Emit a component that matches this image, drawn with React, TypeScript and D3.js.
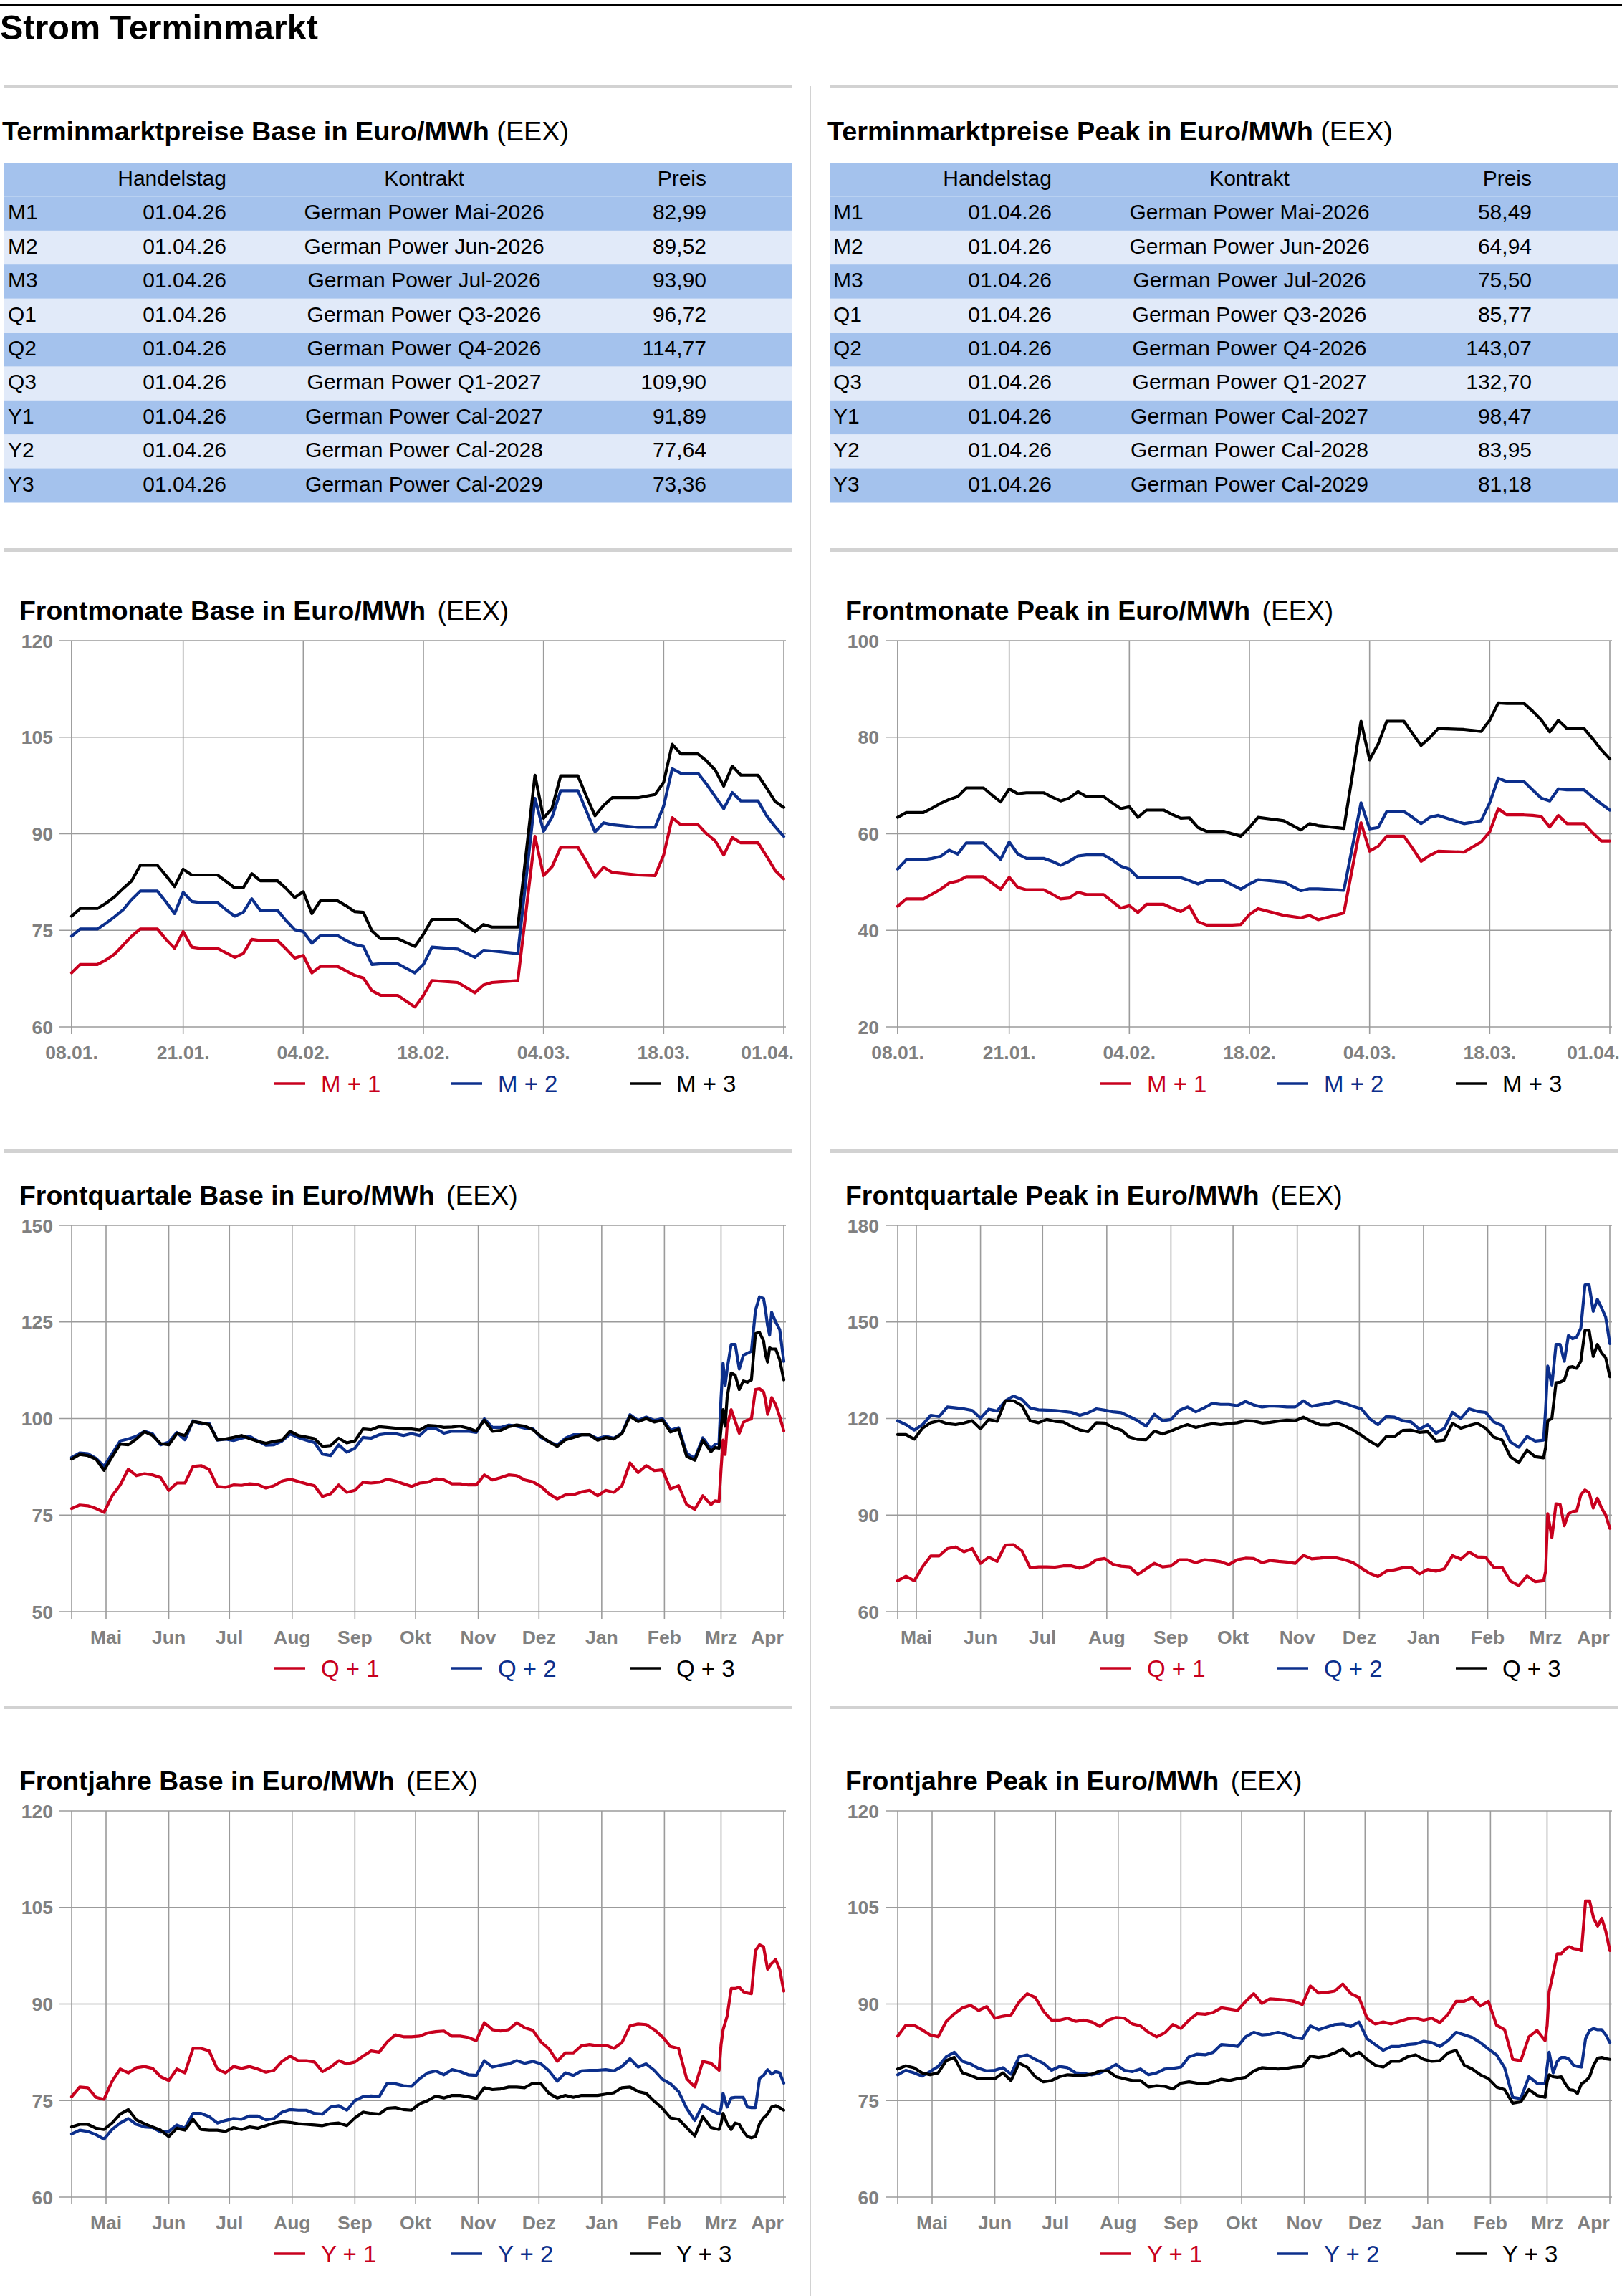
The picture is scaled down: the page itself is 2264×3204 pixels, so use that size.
import React from "react";
import * as d3 from "d3";

// ---------------- constants / styles ----------------
const FONT = "'Liberation Sans', Arial, Helvetica, sans-serif";
const RED = "#c8001e";
const BLUE = "#0c2f8c";
const BLACK = "#000000";
const GRID = "#9b9b9b";
const TICK = "#808080";
const SEP = "#d2d2d2";
const ROW_DARK = "#a4c2ed";
const ROW_LIGHT = "#e1eaf9";

// ---------------- table data ----------------
const ROW_KEYS = ["M1", "M2", "M3", "Q1", "Q2", "Q3", "Y1", "Y2", "Y3"];
const TRADE_DAY = "01.04.26";
const CONTRACTS = [
  "German Power Mai-2026",
  "German Power Jun-2026",
  "German Power Jul-2026",
  "German Power Q3-2026",
  "German Power Q4-2026",
  "German Power Q1-2027",
  "German Power Cal-2027",
  "German Power Cal-2028",
  "German Power Cal-2029",
];
const BASE_PRICES = [82.99, 89.52, 93.9, 96.72, 114.77, 109.9, 91.89, 77.64, 73.36];
const PEAK_PRICES = [58.49, 64.94, 75.5, 85.77, 143.07, 132.7, 98.47, 83.95, 81.18];
const TABLE_HEADERS = ["Handelstag", "Kontrakt", "Preis"];

// ---------------- axis ticks ----------------
const FM_START = "2026-01-08";
const END_DATE = "2026-04-01";
const FM_TICK_DATES = ["2026-01-08", "2026-01-21", "2026-02-04", "2026-02-18", "2026-03-04", "2026-03-18", "2026-04-01"];
const FM_TICK_LABELS = ["08.01.", "21.01.", "04.02.", "18.02.", "04.03.", "18.03.", "01.04."];
const LONG_START = "2025-04-14";
const QP_START = "2025-04-22";
const MONTH_TICK_DATES = ["2025-05-01", "2025-06-01", "2025-07-01", "2025-08-01", "2025-09-01", "2025-10-01", "2025-11-01", "2025-12-01", "2026-01-01", "2026-02-01", "2026-03-01", "2026-04-01"];
const MONTH_TICK_LABELS = ["Mai", "Jun", "Jul", "Aug", "Sep", "Okt", "Nov", "Dez", "Jan", "Feb", "Mrz", "Apr"];

// ---------------- Frontmonate (days since 08.01.2026) ----------------
const FM_DAYS = [0, 1, 3, 4, 5, 6, 7, 8, 10, 11, 12, 13, 14, 15, 17, 18, 19, 20, 21, 22, 24, 25, 26, 27, 28, 29, 31, 32, 33, 34, 35, 36, 38, 39, 40, 41, 42, 45, 47, 48, 49, 52, 54, 55, 56, 57, 59, 60, 61, 62, 63, 66, 68, 69, 70, 71, 73, 74, 75, 76, 77, 78, 80, 81, 82, 83];
const FMB_M1 = [68.4, 69.7, 69.7, 70.4, 71.3, 72.7, 74.1, 75.2, 75.2, 73.6, 72.2, 74.8, 72.4, 72.2, 72.2, 71.5, 70.8, 71.4, 73.6, 73.4, 73.4, 72.1, 70.7, 71.1, 68.4, 69.4, 69.4, 68.7, 68.0, 67.6, 65.6, 64.9, 64.9, 64.0, 63.1, 64.9, 67.2, 66.9, 65.3, 66.5, 66.9, 67.2, 89.6, 83.5, 84.9, 87.9, 87.9, 85.7, 83.3, 84.8, 84.0, 83.6, 83.5, 86.7, 92.5, 91.4, 91.4, 90.0, 88.9, 86.7, 89.4, 88.6, 88.6, 86.5, 84.3, 83.0];
const FMB_M2 = [74.1, 75.2, 75.2, 76.1, 77.1, 78.2, 79.8, 81.1, 81.1, 79.4, 77.6, 80.9, 79.5, 79.3, 79.3, 78.2, 77.2, 77.8, 79.9, 78.1, 78.1, 76.5, 75.1, 74.8, 73.0, 74.2, 74.2, 73.4, 72.8, 72.5, 69.7, 69.8, 69.8, 69.1, 68.4, 69.7, 72.4, 72.1, 70.8, 71.9, 71.8, 71.4, 95.5, 90.4, 92.6, 96.7, 96.7, 93.5, 90.3, 91.7, 91.4, 91.0, 91.0, 94.3, 100.1, 99.4, 99.4, 97.7, 95.8, 93.9, 96.4, 95.1, 95.1, 92.8, 91.1, 89.6];
const FMB_M3 = [77.2, 78.4, 78.4, 79.2, 80.2, 81.5, 82.7, 85.1, 85.1, 83.5, 81.8, 84.5, 83.6, 83.6, 83.6, 82.6, 81.6, 81.6, 83.8, 82.7, 82.7, 81.5, 80.1, 81.0, 77.6, 79.6, 79.6, 78.8, 77.9, 77.8, 74.9, 73.7, 73.7, 73.1, 72.5, 74.4, 76.7, 76.7, 74.8, 75.9, 75.5, 75.5, 99.1, 92.4, 94.0, 99.0, 99.0, 95.8, 92.8, 94.4, 95.6, 95.6, 96.1, 98.0, 103.9, 102.4, 102.4, 101.3, 99.9, 97.4, 100.5, 99.1, 99.1, 97.1, 95.0, 94.1];
const FMP_M1 = [45.0, 46.5, 46.5, 47.5, 48.5, 49.8, 50.2, 51.1, 51.1, 49.8, 48.5, 51.0, 48.9, 48.4, 48.4, 47.5, 46.5, 46.7, 47.9, 47.4, 47.4, 46.0, 44.6, 45.1, 43.7, 45.4, 45.4, 44.6, 43.9, 45.0, 41.8, 41.1, 41.1, 41.1, 41.2, 43.3, 44.5, 43.1, 42.6, 43.1, 42.2, 43.6, 62.3, 56.4, 57.4, 59.5, 59.5, 57.0, 54.3, 55.5, 56.4, 56.2, 58.3, 60.4, 65.2, 63.9, 63.9, 63.8, 63.6, 61.4, 63.8, 62.1, 62.1, 60.2, 58.5, 58.5];
const FMP_M2 = [52.7, 54.6, 54.6, 54.9, 55.3, 56.6, 55.8, 58.1, 58.1, 56.4, 54.7, 58.3, 55.8, 54.9, 54.9, 54.3, 53.5, 54.3, 55.4, 55.6, 55.6, 54.6, 53.3, 52.7, 50.9, 50.9, 50.9, 50.9, 50.9, 50.3, 49.6, 50.3, 50.3, 49.4, 48.5, 49.6, 50.5, 50.0, 48.2, 48.6, 48.6, 48.3, 66.4, 61.0, 61.3, 64.6, 64.6, 63.4, 62.1, 63.4, 63.8, 62.1, 62.7, 66.4, 71.5, 70.8, 70.8, 69.1, 67.4, 66.8, 69.3, 69.1, 69.1, 67.6, 66.2, 64.9];
const FMP_M3 = [63.4, 64.4, 64.4, 65.3, 66.3, 67.1, 67.7, 69.5, 69.5, 68.0, 66.6, 69.3, 68.3, 68.5, 68.5, 67.6, 66.8, 67.4, 68.7, 67.7, 67.7, 66.4, 65.2, 65.6, 63.4, 64.9, 64.9, 64.0, 63.2, 63.3, 61.3, 60.5, 60.5, 60.0, 59.5, 61.3, 63.4, 62.7, 60.8, 62.1, 61.7, 61.1, 83.3, 75.3, 78.6, 83.3, 83.3, 80.8, 78.3, 79.9, 81.8, 81.6, 81.2, 83.5, 87.1, 87.0, 87.0, 85.4, 83.6, 81.1, 83.5, 81.8, 81.8, 79.7, 77.4, 75.5];

// ---------------- Frontquartale Base (days since 14.04.2025) ----------------
const QB_DAYS = [0, 4, 8, 12, 16, 20, 24, 28, 32, 36, 40, 44, 48, 52, 56, 60, 64, 68, 72, 76, 80, 84, 88, 92, 96, 100, 104, 108, 112, 116, 120, 124, 128, 132, 136, 140, 144, 148, 152, 156, 160, 164, 168, 172, 176, 180, 184, 188, 192, 196, 200, 204, 208, 212, 216, 220, 224, 228, 232, 236, 240, 244, 248, 252, 256, 260, 264, 268, 272, 276, 280, 284, 288, 292, 296, 300, 304, 308, 312, 316, 318, 320, 321, 322, 323, 324, 326, 328, 330, 332, 334, 336, 338, 340, 342, 343, 344, 345, 346, 348, 350, 352];
const QB_Q1 = [76.7, 77.6, 77.4, 76.7, 75.7, 80.0, 82.8, 86.9, 85.2, 85.7, 85.4, 84.7, 81.4, 83.3, 83.3, 87.6, 87.8, 86.8, 82.4, 82.2, 82.8, 82.7, 83.1, 82.9, 82.0, 82.6, 83.8, 84.3, 83.7, 83.1, 82.6, 79.8, 80.5, 82.8, 80.9, 81.4, 83.5, 83.3, 83.5, 84.3, 83.8, 83.1, 82.4, 83.3, 83.5, 84.4, 84.1, 83.1, 83.1, 82.8, 82.8, 85.4, 84.1, 84.7, 85.4, 85.2, 84.1, 83.6, 82.4, 80.5, 79.2, 80.2, 80.3, 81.0, 81.4, 80.0, 81.4, 80.9, 82.6, 88.5, 86.0, 87.8, 86.5, 86.7, 81.8, 82.6, 77.7, 76.5, 80.0, 77.7, 78.7, 78.5, 87.0, 94.4, 90.7, 98.0, 102.3, 99.3, 96.2, 99.0, 99.6, 99.9, 107.5, 107.7, 106.9, 104.8, 101.1, 102.9, 105.4, 103.6, 100.5, 96.8];
const QB_Q2 = [89.9, 91.1, 90.9, 89.7, 87.6, 90.9, 94.2, 94.7, 95.4, 96.7, 96.0, 93.2, 93.9, 96.4, 94.5, 99.4, 98.6, 98.7, 94.4, 94.7, 94.3, 94.9, 95.4, 94.2, 93.1, 93.2, 94.2, 96.0, 95.1, 94.4, 93.8, 90.8, 90.4, 93.2, 91.3, 92.3, 95.1, 94.9, 95.8, 96.1, 96.1, 95.6, 96.1, 95.6, 97.5, 97.4, 96.2, 96.7, 96.7, 96.7, 96.4, 99.9, 97.7, 97.7, 98.3, 98.0, 97.5, 97.3, 95.1, 94.0, 93.1, 94.9, 95.8, 95.8, 95.8, 94.8, 95.4, 94.9, 96.2, 101.0, 99.5, 100.4, 99.5, 100.0, 97.0, 97.6, 91.0, 89.7, 95.0, 92.1, 93.3, 93.7, 105.4, 114.3, 108.5, 112.8, 119.2, 119.2, 112.8, 116.4, 116.9, 117.4, 128.0, 131.5, 131.1, 128.0, 124.0, 121.6, 127.5, 125.0, 123.0, 114.8];
const QB_Q3 = [89.5, 90.7, 90.4, 89.5, 86.6, 90.1, 93.4, 93.2, 94.7, 96.6, 95.6, 93.5, 93.2, 96.1, 95.6, 99.2, 98.9, 98.4, 94.5, 94.7, 95.1, 95.6, 94.8, 94.1, 93.6, 94.1, 94.4, 96.7, 95.6, 95.2, 94.8, 92.8, 93.0, 94.9, 93.7, 94.2, 97.3, 97.1, 97.9, 97.7, 97.5, 97.3, 97.3, 97.0, 98.2, 98.1, 97.7, 97.8, 98.0, 97.5, 96.7, 99.6, 96.7, 96.9, 97.9, 98.3, 98.0, 97.1, 95.4, 94.0, 92.8, 94.5, 95.1, 95.8, 95.8, 94.4, 95.1, 94.7, 96.1, 100.6, 99.2, 100.0, 99.1, 99.6, 96.5, 97.2, 90.2, 89.2, 94.4, 91.4, 92.5, 92.3, 97.4, 102.3, 98.0, 105.4, 111.8, 111.2, 107.5, 109.7, 109.4, 110.0, 122.0, 122.3, 120.1, 116.5, 114.6, 118.3, 118.0, 118.0, 115.2, 110.0];

// ---------------- Frontquartale Peak (days since 22.04.2025) ----------------
const QP_DAYS = [0, 4, 8, 12, 16, 20, 24, 28, 32, 36, 40, 44, 48, 52, 56, 60, 64, 68, 72, 76, 80, 84, 88, 92, 96, 100, 104, 108, 112, 116, 120, 124, 128, 132, 136, 140, 144, 148, 152, 156, 160, 164, 168, 172, 176, 180, 184, 188, 192, 196, 200, 204, 208, 212, 216, 220, 224, 228, 232, 236, 240, 244, 248, 252, 256, 260, 264, 268, 272, 276, 280, 284, 288, 292, 296, 300, 304, 308, 312, 313, 314, 316, 318, 320, 322, 324, 326, 328, 330, 332, 334, 336, 338, 340, 342, 344];
const QP_Q1 = [69.6, 71.0, 69.6, 73.9, 77.3, 77.3, 79.6, 80.1, 78.6, 79.6, 75.0, 76.9, 75.6, 80.7, 80.8, 78.9, 73.6, 73.9, 73.9, 73.8, 74.2, 74.2, 73.5, 74.3, 76.1, 76.5, 74.7, 74.1, 73.9, 71.6, 73.3, 75.0, 73.9, 74.2, 76.1, 76.1, 75.2, 76.1, 75.9, 75.5, 74.6, 76.1, 76.6, 76.5, 75.2, 75.9, 75.6, 75.4, 75.0, 77.5, 76.4, 76.6, 76.9, 76.7, 76.1, 75.2, 73.5, 71.9, 70.9, 72.6, 73.0, 73.6, 73.7, 71.7, 73.1, 72.6, 73.3, 77.4, 76.3, 78.5, 77.0, 76.9, 73.7, 73.7, 69.5, 68.1, 71.1, 69.3, 69.6, 72.6, 90.4, 83.0, 93.5, 93.3, 86.7, 90.4, 91.1, 91.3, 96.3, 97.8, 97.0, 92.2, 95.2, 92.2, 90.0, 85.9];
const QP_Q2 = [119.3, 118.1, 116.4, 118.1, 121.0, 120.6, 123.6, 123.3, 123.0, 122.5, 120.1, 122.9, 122.3, 125.5, 127.0, 125.9, 123.3, 122.7, 122.6, 122.5, 122.2, 121.9, 121.0, 121.8, 123.0, 122.6, 122.1, 121.8, 120.6, 119.3, 117.6, 121.3, 119.3, 119.7, 122.5, 123.6, 122.1, 123.3, 124.7, 124.4, 124.4, 124.0, 125.3, 124.2, 123.6, 123.9, 123.8, 123.6, 123.6, 125.5, 123.8, 124.3, 124.7, 125.4, 124.7, 123.8, 123.0, 119.9, 118.1, 120.6, 120.4, 119.3, 118.9, 116.7, 118.1, 115.4, 116.9, 121.9, 120.0, 123.0, 122.2, 121.9, 118.9, 117.8, 112.7, 111.1, 114.4, 113.0, 113.3, 123.0, 136.3, 130.4, 143.0, 143.0, 137.8, 145.8, 144.8, 145.3, 148.1, 161.5, 161.5, 153.3, 157.0, 154.4, 151.5, 143.3];
const QP_Q3 = [115.0, 115.0, 113.6, 117.0, 118.7, 119.3, 118.4, 118.1, 118.6, 119.3, 116.8, 119.7, 119.1, 125.5, 125.5, 124.0, 119.3, 118.7, 119.7, 119.1, 118.9, 117.6, 116.4, 115.9, 118.7, 118.6, 117.2, 116.4, 114.2, 113.5, 113.4, 116.1, 115.2, 116.1, 117.2, 118.1, 117.2, 117.9, 118.4, 118.1, 118.4, 118.7, 119.3, 119.2, 118.6, 118.8, 119.2, 119.5, 119.3, 120.4, 119.1, 118.1, 118.0, 118.6, 117.7, 116.4, 114.8, 113.0, 111.5, 114.4, 114.4, 116.3, 116.4, 115.7, 115.9, 113.0, 113.3, 118.5, 117.0, 117.8, 118.5, 117.0, 114.2, 113.3, 108.1, 106.3, 110.2, 108.1, 107.8, 111.1, 119.3, 120.0, 131.1, 131.3, 131.9, 135.9, 136.1, 135.6, 137.8, 147.4, 147.4, 139.3, 143.0, 140.4, 138.9, 133.0];

// ---------------- Frontjahre (days since 14.04.2025) ----------------
const Y_DAYS = [0, 4, 8, 12, 16, 20, 24, 28, 32, 36, 40, 44, 48, 52, 56, 60, 64, 68, 72, 76, 80, 84, 88, 92, 96, 100, 104, 108, 112, 116, 120, 124, 128, 132, 136, 140, 144, 148, 152, 156, 160, 164, 168, 172, 176, 180, 184, 188, 192, 196, 200, 204, 208, 212, 216, 220, 224, 228, 232, 236, 240, 244, 248, 252, 256, 260, 264, 268, 272, 276, 280, 284, 288, 292, 296, 300, 304, 308, 312, 316, 320, 321, 322, 324, 326, 328, 330, 332, 334, 336, 338, 340, 342, 344, 346, 348, 350, 352];
const YB_Y1 = [75.6, 77.1, 77.0, 75.5, 75.2, 78.0, 79.9, 79.3, 80.1, 80.3, 80.0, 78.7, 78.1, 79.9, 79.3, 83.1, 83.1, 82.7, 79.9, 79.3, 80.3, 80.0, 80.3, 79.9, 79.4, 79.7, 81.1, 81.9, 81.2, 81.2, 81.0, 79.5, 80.2, 81.2, 80.7, 81.0, 81.9, 82.7, 82.5, 84.1, 85.2, 84.9, 84.9, 85.0, 85.5, 85.7, 85.8, 85.0, 85.0, 84.8, 84.3, 87.1, 86.0, 85.8, 86.0, 87.1, 86.3, 85.9, 84.1, 83.0, 81.1, 82.4, 82.4, 83.5, 83.7, 83.5, 83.6, 83.1, 84.0, 86.6, 86.9, 86.8, 86.0, 84.9, 83.4, 83.1, 78.4, 77.1, 81.1, 80.8, 79.7, 83.7, 86.0, 88.1, 92.4, 92.4, 92.6, 91.9, 91.7, 91.6, 98.3, 99.2, 98.9, 95.4, 96.3, 96.9, 95.4, 92.0];
const YB_Y2 = [69.8, 70.4, 70.2, 69.7, 69.0, 70.5, 71.5, 72.2, 71.3, 70.9, 70.8, 70.1, 70.2, 71.2, 70.7, 73.0, 73.0, 72.5, 71.5, 71.9, 72.2, 72.1, 72.6, 72.6, 72.0, 72.2, 73.2, 73.6, 73.5, 73.5, 73.0, 72.9, 74.0, 74.2, 73.5, 75.0, 75.6, 75.7, 75.6, 77.7, 77.6, 77.3, 77.2, 78.4, 79.3, 79.6, 79.0, 79.8, 79.5, 79.0, 78.9, 81.2, 80.2, 80.5, 80.7, 81.2, 80.8, 81.1, 80.7, 79.6, 78.0, 79.3, 78.9, 79.6, 79.7, 79.7, 79.8, 79.6, 80.3, 81.5, 80.2, 80.7, 79.7, 78.3, 77.6, 76.4, 73.8, 71.9, 74.3, 73.5, 72.9, 73.8, 76.1, 74.0, 75.4, 75.5, 75.5, 75.5, 74.0, 73.9, 73.9, 78.4, 78.9, 79.8, 79.1, 79.5, 79.3, 77.7];
const YB_Y3 = [70.9, 71.3, 71.3, 70.7, 70.5, 71.5, 72.9, 73.6, 72.0, 71.4, 70.9, 70.4, 69.4, 70.7, 70.4, 72.1, 70.5, 70.4, 70.4, 70.2, 70.8, 70.5, 70.9, 70.7, 71.1, 71.5, 71.7, 71.6, 71.4, 71.3, 71.2, 71.1, 71.4, 71.5, 71.1, 72.3, 73.2, 73.0, 72.9, 73.8, 73.9, 73.6, 73.5, 74.5, 75.0, 75.7, 75.4, 75.8, 75.8, 75.6, 75.3, 77.0, 76.7, 76.8, 77.1, 77.1, 77.0, 77.7, 77.6, 76.1, 75.4, 75.8, 75.5, 75.8, 75.8, 75.8, 76.0, 76.2, 77.0, 77.1, 76.4, 76.1, 74.9, 73.8, 72.3, 72.1, 70.8, 69.5, 72.5, 70.8, 70.5, 71.4, 73.0, 71.4, 70.5, 71.5, 71.3, 70.2, 69.4, 69.2, 69.4, 71.4, 72.3, 72.9, 74.0, 74.2, 73.9, 73.5];
const YP_Y1 = [85.0, 86.7, 86.7, 86.0, 85.2, 84.9, 87.3, 88.5, 89.4, 89.8, 89.0, 89.6, 87.8, 88.1, 88.3, 90.3, 91.6, 91.0, 88.9, 87.5, 87.5, 87.8, 87.3, 87.5, 87.2, 86.5, 87.5, 87.9, 87.8, 86.9, 86.6, 85.6, 84.9, 85.5, 86.8, 86.2, 87.5, 88.5, 88.4, 88.7, 89.4, 89.2, 89.0, 90.4, 91.6, 90.1, 90.8, 90.7, 90.6, 90.4, 89.9, 92.8, 91.7, 91.8, 92.0, 93.1, 91.6, 91.0, 87.8, 86.9, 87.2, 86.9, 87.3, 87.7, 87.8, 87.5, 87.8, 87.1, 88.4, 90.4, 90.4, 91.0, 89.7, 90.4, 86.7, 86.0, 81.4, 81.2, 84.9, 85.9, 84.3, 86.6, 91.9, 94.8, 97.8, 97.8, 98.5, 98.9, 98.6, 98.5, 98.3, 106.0, 106.0, 103.3, 102.1, 103.3, 101.3, 98.3];
const YP_Y2 = [79.0, 79.7, 79.3, 78.8, 79.5, 80.3, 81.8, 82.5, 81.1, 80.7, 80.0, 79.6, 79.7, 80.1, 79.1, 81.8, 82.1, 81.4, 80.8, 79.7, 80.3, 80.1, 79.3, 79.2, 79.0, 79.3, 79.9, 80.6, 79.7, 79.5, 79.9, 79.0, 79.3, 79.9, 80.0, 80.2, 81.8, 82.2, 82.1, 82.5, 83.7, 83.6, 83.4, 84.9, 85.6, 85.2, 85.3, 85.6, 85.3, 84.8, 84.6, 86.6, 86.0, 86.4, 86.8, 86.9, 86.5, 87.2, 84.6, 83.7, 82.8, 83.4, 83.4, 83.7, 83.8, 84.2, 84.0, 83.4, 84.3, 85.6, 85.2, 84.8, 84.0, 83.0, 82.1, 80.1, 75.5, 75.3, 78.7, 77.7, 77.6, 80.2, 82.5, 79.3, 81.1, 81.7, 81.7, 81.4, 80.5, 80.3, 80.2, 84.6, 85.9, 86.2, 86.0, 86.0, 85.2, 84.0];
const YP_Y3 = [79.9, 80.4, 80.1, 79.3, 79.0, 79.3, 81.2, 81.7, 79.3, 78.9, 78.4, 78.4, 78.4, 79.3, 78.1, 80.8, 80.2, 78.7, 77.9, 78.1, 78.7, 79.0, 78.9, 78.9, 79.1, 79.6, 79.6, 78.7, 78.4, 78.1, 78.1, 77.1, 77.3, 77.2, 76.8, 77.7, 77.9, 77.7, 77.6, 77.9, 78.3, 78.1, 78.4, 78.6, 79.6, 80.1, 80.0, 79.9, 80.0, 80.2, 80.3, 81.9, 81.7, 81.9, 82.4, 83.0, 81.9, 82.5, 81.4, 80.5, 80.2, 81.1, 81.1, 81.8, 82.1, 81.4, 81.1, 81.2, 82.4, 82.8, 80.5, 79.9, 79.0, 78.4, 77.1, 76.7, 74.6, 74.8, 76.7, 75.8, 75.5, 77.9, 79.0, 78.7, 78.6, 78.7, 77.6, 76.7, 76.6, 76.1, 77.6, 78.0, 78.7, 80.5, 81.6, 81.7, 81.5, 81.4];

// ---------------- layout ----------------
const PAGE_W = 2264;
const PAGE_H = 3204;
const COL_X = [6, 1158];
const COL_W = [1099, 1100];
const PLOT_L = [100, 1253];
const PLOT_W = 994;
const PLOT_H = 539;
const CHART_TOPS = [894, 1710, 2527];
const SEPARATOR_Y = [118, 765, 1604, 2380];
const TABLE_TOP = 227;
const ROW_H = 47.4;

const parse = d3.utcParse("%Y-%m-%d");
const fmtPrice = (v: number) => d3.format(".2f")(v).replace(".", ",");

type SeriesDef = { label: string; color: string; values: number[] };

type ChartDef = {
  title: string;
  start: string;
  days: number[];
  series: SeriesDef[];
  yDomain: [number, number];
  yTicks: number[];
  tickDates: string[];
  tickLabels: string[];
};

const mk = (prefix: string, a: number[], b: number[], c: number[]): SeriesDef[] => [
  { label: `${prefix} + 1`, color: RED, values: a },
  { label: `${prefix} + 2`, color: BLUE, values: b },
  { label: `${prefix} + 3`, color: BLACK, values: c },
];

const CHARTS: ChartDef[][] = [
  [
    { title: "Frontmonate Base in Euro/MWh", start: FM_START, days: FM_DAYS, series: mk("M", FMB_M1, FMB_M2, FMB_M3), yDomain: [60, 120], yTicks: [60, 75, 90, 105, 120], tickDates: FM_TICK_DATES, tickLabels: FM_TICK_LABELS },
    { title: "Frontmonate Peak in Euro/MWh", start: FM_START, days: FM_DAYS, series: mk("M", FMP_M1, FMP_M2, FMP_M3), yDomain: [20, 100], yTicks: [20, 40, 60, 80, 100], tickDates: FM_TICK_DATES, tickLabels: FM_TICK_LABELS },
  ],
  [
    { title: "Frontquartale Base in Euro/MWh", start: LONG_START, days: QB_DAYS, series: mk("Q", QB_Q1, QB_Q2, QB_Q3), yDomain: [50, 150], yTicks: [50, 75, 100, 125, 150], tickDates: MONTH_TICK_DATES, tickLabels: MONTH_TICK_LABELS },
    { title: "Frontquartale Peak in Euro/MWh", start: QP_START, days: QP_DAYS, series: mk("Q", QP_Q1, QP_Q2, QP_Q3), yDomain: [60, 180], yTicks: [60, 90, 120, 150, 180], tickDates: MONTH_TICK_DATES, tickLabels: MONTH_TICK_LABELS },
  ],
  [
    { title: "Frontjahre Base in Euro/MWh", start: LONG_START, days: Y_DAYS, series: mk("Y", YB_Y1, YB_Y2, YB_Y3), yDomain: [60, 120], yTicks: [60, 75, 90, 105, 120], tickDates: MONTH_TICK_DATES, tickLabels: MONTH_TICK_LABELS },
    { title: "Frontjahre Peak in Euro/MWh", start: LONG_START, days: Y_DAYS, series: mk("Y", YP_Y1, YP_Y2, YP_Y3), yDomain: [60, 120], yTicks: [60, 75, 90, 105, 120], tickDates: MONTH_TICK_DATES, tickLabels: MONTH_TICK_LABELS },
  ],
];

function LineChart({ def, plotL, top }: { def: ChartDef; plotL: number; top: number }) {
  const bottom = top + PLOT_H;
  const s = parse(def.start) as Date;
  const e = parse(END_DATE) as Date;
  const x = d3.scaleUtc().domain([s, e]).range([plotL, plotL + PLOT_W]);
  const y = d3.scaleLinear().domain(def.yDomain).range([bottom, top]);
  const vLines = [s, ...def.tickDates.map((t) => parse(t) as Date)];
  const legendOffsets = [283, 530, 779];
  return (
    <g>
      <text x={plotL - 73} y={top - 29} fontFamily={FONT} fontSize={37.4} fill="#000" style={{ whiteSpace: "pre" }}>
        <tspan fontWeight={700}>{def.title}</tspan>
        <tspan fontWeight={400} dx={6}>{" (EEX)"}</tspan>
      </text>
      {def.yTicks.map((t) => (
        <g key={"h" + t}>
          <line x1={plotL - 17} x2={plotL + PLOT_W + 3} y1={y(t)} y2={y(t)} stroke={GRID} strokeWidth={1.6} />
          <text x={plotL - 26} y={y(t)} dy="0.36em" textAnchor="end" fontFamily={FONT} fontWeight={700} fontSize={26.5} fill={TICK}>
            {t}
          </text>
        </g>
      ))}
      {vLines.map((d, i) => (
        <line key={"v" + i} x1={x(d)} x2={x(d)} y1={top} y2={bottom + 10} stroke={GRID} strokeWidth={1.6} />
      ))}
      {def.tickDates.map((t, i) => {
        const last = i === def.tickDates.length - 1;
        return (
          <text key={"xl" + i} x={x(parse(t) as Date) + (last ? -23 : 0)} y={bottom + 45} textAnchor="middle" fontFamily={FONT} fontWeight={700} fontSize={26.5} fill={TICK}>
            {def.tickLabels[i]}
          </text>
        );
      })}
      {def.series.map((sr, k) => {
        const pts: [number, number][] = def.days.map((d, i) => [d, sr.values[i]] as [number, number]).filter((p) => p[1] !== undefined);
        const gen = d3
          .line<[number, number]>()
          .x((p) => x(d3.utcDay.offset(s, p[0])))
          .y((p) => y(p[1]));
        return <path key={"s" + k} d={gen(pts) || ""} fill="none" stroke={sr.color} strokeWidth={4.2} strokeLinejoin="round" strokeLinecap="round" />;
      })}
      {def.series.map((sr, k) => (
        <g key={"lg" + k}>
          <line x1={plotL + legendOffsets[k]} x2={plotL + legendOffsets[k] + 43} y1={bottom + 79} y2={bottom + 79} stroke={sr.color} strokeWidth={3.6} />
          <text x={plotL + legendOffsets[k] + 65} y={bottom + 79} dy="0.36em" fontFamily={FONT} fontSize={33} fill={sr.color} style={{ whiteSpace: "pre" }}>
            {sr.label}
          </text>
        </g>
      ))}
    </g>
  );
}

function PriceTable({ x0, w, title, prices }: { x0: number; w: number; title: string; prices: number[] }) {
  const colDate = x0 + 310;
  const colContract = x0 + 586;
  const colPrice = x0 + 980;
  return (
    <g fontFamily={FONT}>
      <text x={x0 - 3} y={196} fontSize={37.8} fill="#000" style={{ whiteSpace: "pre" }}>
        <tspan fontWeight={700}>{title}</tspan>
        <tspan fontWeight={400}>{" (EEX)"}</tspan>
      </text>
      <rect x={x0} y={TABLE_TOP} width={w} height={ROW_H} fill={ROW_DARK} />
      <text x={colDate} y={TABLE_TOP + 32} textAnchor="end" fontSize={30}>{TABLE_HEADERS[0]}</text>
      <text x={colContract} y={TABLE_TOP + 32} textAnchor="middle" fontSize={30}>{TABLE_HEADERS[1]}</text>
      <text x={colPrice} y={TABLE_TOP + 32} textAnchor="end" fontSize={30}>{TABLE_HEADERS[2]}</text>
      {ROW_KEYS.map((k, i) => {
        const top = TABLE_TOP + ROW_H * (i + 1);
        return (
          <g key={k}>
            <rect x={x0} y={top} width={w} height={ROW_H + 0.5} fill={i % 2 === 0 ? ROW_DARK : ROW_LIGHT} />
            <text x={x0 + 5} y={top + 32} fontSize={30}>{k}</text>
            <text x={colDate} y={top + 32} textAnchor="end" fontSize={30}>{TRADE_DAY}</text>
            <text x={colContract} y={top + 32} textAnchor="middle" fontSize={30}>{CONTRACTS[i]}</text>
            <text x={colPrice} y={top + 32} textAnchor="end" fontSize={30}>{fmtPrice(prices[i])}</text>
          </g>
        );
      })}
    </g>
  );
}

export default function App() {
  return (
    <div style={{ position: "absolute", left: 0, top: 0, background: "#fff" }}>
      <svg width={PAGE_W} height={PAGE_H} viewBox={`0 0 ${PAGE_W} ${PAGE_H}`} style={{ display: "block", background: "#fff" }}>
        <rect x={0} y={5} width={PAGE_W} height={4} fill="#000" />
        <text x={0} y={55} fontFamily={FONT} fontWeight={700} fontSize={48.5} fill="#000">
          Strom Terminmarkt
        </text>
        <rect x={1130} y={120} width={2} height={PAGE_H - 120} fill={SEP} />
        {SEPARATOR_Y.map((sy) =>
          COL_X.map((cx, c) => <rect key={sy + "-" + c} x={cx} y={sy} width={COL_W[c]} height={5} fill={SEP} />)
        )}
        <PriceTable x0={COL_X[0]} w={COL_W[0]} title="Terminmarktpreise Base in Euro/MWh" prices={BASE_PRICES} />
        <PriceTable x0={COL_X[1]} w={COL_W[1]} title="Terminmarktpreise Peak in Euro/MWh" prices={PEAK_PRICES} />
        {CHARTS.map((row, r) =>
          row.map((def, c) => <LineChart key={r + "-" + c} def={def} plotL={PLOT_L[c]} top={CHART_TOPS[r]} />)
        )}
      </svg>
    </div>
  );
}
